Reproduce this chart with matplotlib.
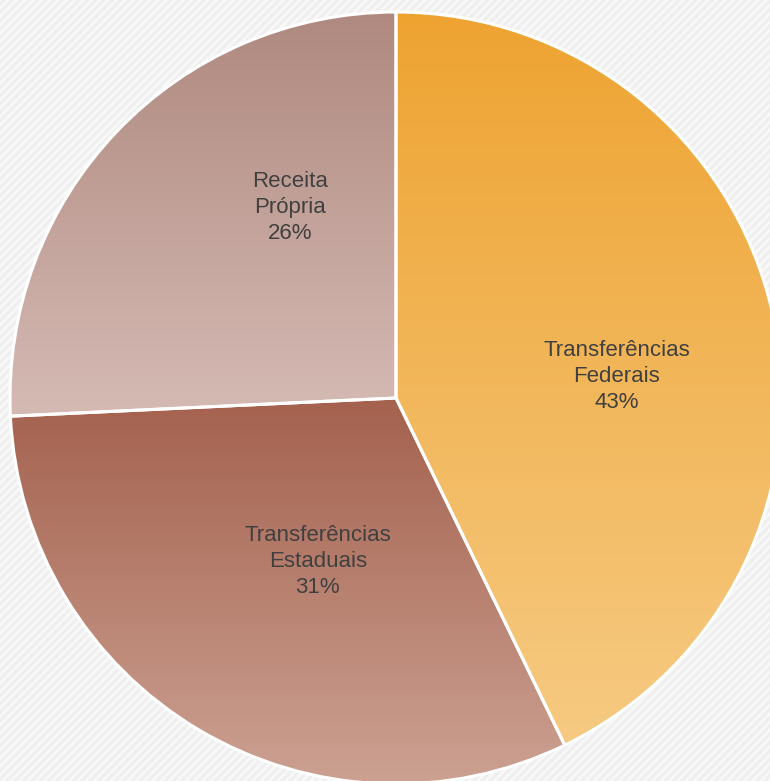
import numpy as np
import matplotlib.pyplot as plt
from matplotlib.patches import Rectangle
from matplotlib.colors import to_rgb

# dados
categorias = ["Transferências\nFederais", "Transferências\nEstaduais", "Receita\nPrópria"]
valores = [42.8, 31.45, 25.75]
# gradiente (topo, base) de cada fatia
cores_topo = ["#EEA331", "#A4614E", "#AF897F"]
cores_base = ["#F6CA82", "#CCA192", "#D5BAB4"]
# posicao dos rotulos (raio, angulo em graus)
rotulos_pos = [(0.575, 5.5), (0.47, -115.5), (0.565, 119)]

W, H = 770, 781
plt.rcParams["hatch.linewidth"] = 2.0
fig = plt.figure(figsize=(W / 100, H / 100), dpi=100)
fig.patch.set_facecolor("#EFEFEF")

# fundo com listras diagonais
fundo = fig.add_axes([0, 0, 1, 1])
fundo.set_axis_off()
fundo.add_patch(Rectangle((0, 0), 1, 1, facecolor="#EFEFEF", edgecolor="#F8F8F8",
                          hatch="////", linewidth=0, transform=fundo.transAxes))

cx, cy, r = 396, 398, 386
lim = 1.05
lado = 2 * r * lim
ax = fig.add_axes([(cx - lado / 2) / W, (H - cy - lado / 2) / H, lado / W, lado / H])
ax.set_axis_off()

wedges, _ = ax.pie(valores, startangle=90, counterclock=False, radius=1,
                   wedgeprops=dict(edgecolor="white", linewidth=2.2, facecolor="none"))

for w, c1, c2 in zip(wedges, cores_topo, cores_base):
    bb = w.get_path().get_extents(w.get_transform() - ax.transData)
    grad = np.linspace(0, 1, 256)[:, None, None]
    img = np.array(to_rgb(c1)) * (1 - grad) + np.array(to_rgb(c2)) * grad
    im = ax.imshow(img, extent=[bb.x0, bb.x1, bb.y0, bb.y1], origin="upper",
                   aspect="auto", zorder=0)
    im.set_clip_path(w)
    w.set_zorder(2)

ax.set_xlim(-lim, lim)
ax.set_ylim(-lim, lim)

for nome, v, (d, ang) in zip(categorias, valores, rotulos_pos):
    x = d * np.cos(np.radians(ang))
    y = d * np.sin(np.radians(ang))
    ax.text(x, y, f"{nome}\n{v:.0f}%", ha="center", va="center", fontsize=16,
            color="#404040", family="Liberation Sans", linespacing=1.32, zorder=3)

fig.savefig("out.png", dpi=100, facecolor=fig.get_facecolor())
